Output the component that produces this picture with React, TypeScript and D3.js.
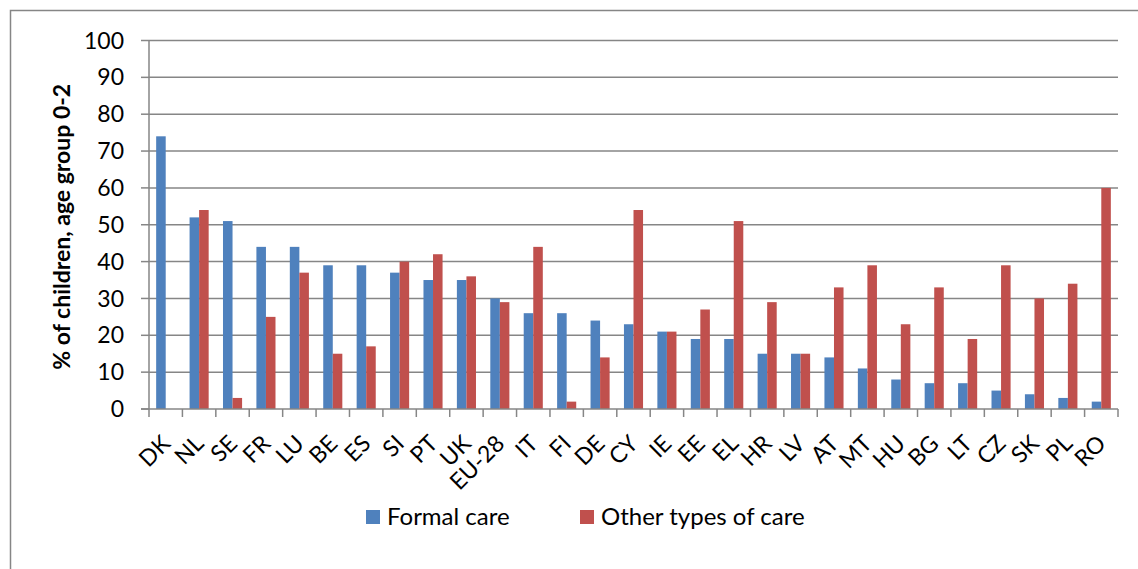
import React, { useEffect, useRef } from 'react';
import * as d3 from 'd3';

const countries = ['DK', 'NL', 'SE', 'FR', 'LU', 'BE', 'ES', 'SI', 'PT', 'UK', 'EU-28', 'IT', 'FI', 'DE', 'CY', 'IE', 'EE', 'EL', 'HR', 'LV', 'AT', 'MT', 'HU', 'BG', 'LT', 'CZ', 'SK', 'PL', 'RO'];
const formalCare = [74, 52, 51, 44, 44, 39, 39, 37, 35, 35, 30, 26, 26, 24, 23, 21, 19, 19, 15, 15, 14, 11, 8, 7, 7, 5, 4, 3, 2];
const otherCare = [0, 54, 3, 25, 37, 15, 17, 40, 42, 36, 29, 44, 2, 14, 54, 21, 27, 51, 29, 15, 33, 39, 23, 33, 19, 39, 30, 34, 60];
const seriesNames = ['Formal care', 'Other types of care'];
const seriesColors = ['#4F81BD', '#C0504D'];
const yTicks = [0, 10, 20, 30, 40, 50, 60, 70, 80, 90, 100];

const W = 1138;
const H = 569;
const FONT = 'Lato, "Open Sans", sans-serif';

const App: React.FC = () => {
  const ref = useRef<SVGSVGElement>(null);

  useEffect(() => {
    if (!ref.current) return;
    const svg = d3.select(ref.current);
    svg.selectAll('*').remove();

    const left = 149;
    const right = 1118;
    const top = 40.5;
    const bottom = 409;

    // outer chart frame, runs off the right and bottom edges
    svg.append('rect')
      .attr('x', 10.5).attr('y', 10.5)
      .attr('width', W + 20).attr('height', H + 20)
      .attr('fill', 'white').attr('stroke', '#868686').attr('stroke-width', 1.5);

    const x = d3.scaleBand<string>().domain(countries).range([left, right]);
    const xInner = d3.scaleBand<number>().domain([0, 1]).range([0, x.bandwidth()])
      .paddingInner(0).paddingOuter(0.75);
    const y = d3.scaleLinear().domain([0, 100]).range([bottom, top]);

    // gridlines
    svg.append('g').selectAll('line').data(yTicks.filter((d) => d > 0)).join('line')
      .attr('x1', left).attr('x2', right)
      .attr('y1', (d) => y(d)).attr('y2', (d) => y(d))
      .attr('stroke', '#868686').attr('stroke-width', 1.5);

    // bars
    const data = [formalCare, otherCare];
    data.forEach((vals, s) => {
      svg.append('g').selectAll('rect').data(vals).join('rect')
        .attr('x', (_d, i) => (x(countries[i]) as number) + (xInner(s) as number))
        .attr('width', xInner.bandwidth())
        .attr('y', (d) => y(d))
        .attr('height', (d) => bottom - y(d))
        .attr('fill', seriesColors[s]);
    });

    // axes lines
    svg.append('line').attr('x1', left).attr('x2', left).attr('y1', top).attr('y2', bottom)
      .attr('stroke', '#868686').attr('stroke-width', 1.5);
    svg.append('line').attr('x1', left - 8).attr('x2', right).attr('y1', bottom).attr('y2', bottom)
      .attr('stroke', '#868686').attr('stroke-width', 1.5);

    // y ticks + labels
    const yg = svg.append('g');
    yg.selectAll('line').data(yTicks).join('line')
      .attr('x1', left - 8).attr('x2', left)
      .attr('y1', (d) => y(d)).attr('y2', (d) => y(d))
      .attr('stroke', '#868686').attr('stroke-width', 1.5);
    yg.selectAll('text').data(yTicks).join('text')
      .attr('x', 124).attr('y', (d) => y(d))
      .attr('dy', '0.35em')
      .attr('text-anchor', 'end')
      .attr('font-family', FONT).attr('font-size', 23)
      .text((d) => d);

    // x ticks
    const xTickPos = countries.map((c) => x(c) as number).concat([right]);
    svg.append('g').selectAll('line').data(xTickPos).join('line')
      .attr('x1', (d) => d).attr('x2', (d) => d)
      .attr('y1', bottom).attr('y2', bottom + 8)
      .attr('stroke', '#868686').attr('stroke-width', 1.5);

    // x labels
    svg.append('g').selectAll('text').data(countries).join('text')
      .attr('transform', (d) => `translate(${(x(d) as number) + x.bandwidth() / 2 + 6},${bottom + 36}) rotate(-45)`)
      .attr('text-anchor', 'end')
      .attr('font-family', FONT).attr('font-size', 23)
      .text((d) => d);

    // y title
    svg.append('text')
      .attr('transform', `translate(70,${(top + bottom) / 2 + 2}) rotate(-90)`)
      .attr('text-anchor', 'middle')
      .attr('font-family', FONT).attr('font-size', 23).attr('font-weight', 'bold')
      .text('% of children, age group 0-2');

    // legend
    const legendX = [366, 580];
    seriesNames.forEach((name, s) => {
      svg.append('rect')
        .attr('x', legendX[s]).attr('y', 510)
        .attr('width', 14).attr('height', 14)
        .attr('fill', seriesColors[s]);
      svg.append('text')
        .attr('x', legendX[s] + 21).attr('y', 517)
        .attr('dy', '0.35em')
        .attr('font-family', FONT).attr('font-size', 24)
        .text(name);
    });
  }, []);

  return (
    <svg
      ref={ref}
      width={W}
      height={H}
      style={{ position: 'absolute', left: 0, top: 0, background: 'white' }}
    />
  );
};

export default App;
